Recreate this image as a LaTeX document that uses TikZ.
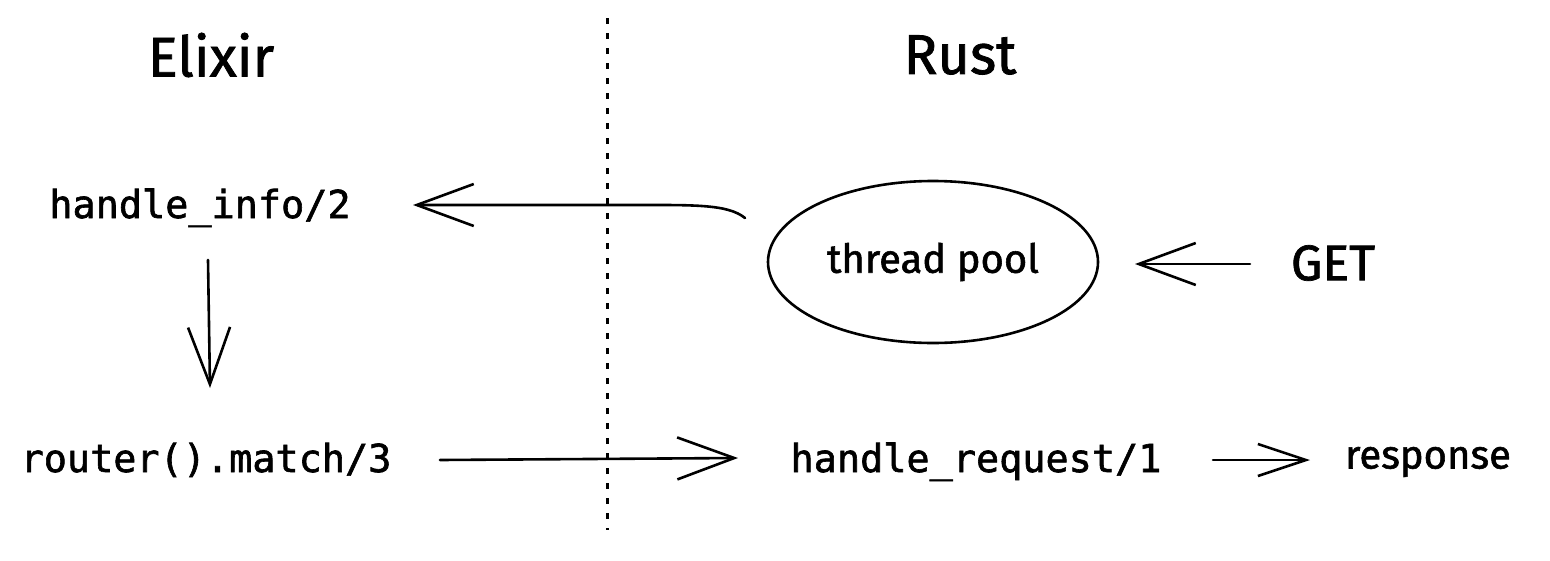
\documentclass[tikz,border=0pt]{standalone}
\usepackage{fontspec}
\setmainfont{Fira Sans}
\newfontfamily\codefont[FakeBold=1.6]{DejaVu Sans Mono}
\newfontfamily\handfont[FakeBold=1.4]{Fira Sans}
\usetikzlibrary{arrows.meta,calc,shapes.geometric}
\newcommand{\us}{\char"005F\relax}
\begin{document}
\begin{tikzpicture}[x=1pt,y=-1pt,
  code/.style={font=\codefont\fontsize{38.5}{40}\selectfont, inner sep=0pt, text height=30pt, text depth=8pt},
  hand/.style={font=\handfont\fontsize{40}{44}\selectfont, inner sep=0pt},
  bighand/.style={font=\handfont\fontsize{50}{54}\selectfont, inner sep=0pt},
  title/.style={font=\handfont\fontsize{56}{60}\selectfont, inner sep=0pt},
  arr/.style={line width=2.6pt, line cap=round, line join=round, -{Straight Barb[length=57pt,width=42pt,line width=2.6pt]}},
  smallarr/.style={line width=2.6pt, line cap=round, line join=round, -{Straight Barb[length=48pt,width=32pt,line width=2.6pt]}},
  divider/.style={line width=3pt, dash pattern=on 6pt off 9pt},
  pool/.style={draw, ellipse, line width=2.6pt, minimum width=330pt, minimum height=162pt, inner sep=0pt}
]
\useasboundingbox (0,0) rectangle (1550,560);
\fill[white] (0,0) rectangle (1550,560);

% divider
\coordinate (dtop) at (607,18);
\coordinate (dbot) at (607,530);
\draw[divider] (dtop) -- (dbot);

% titles
\node[title] (elixir) at (211,55) {Elixir};
\node[title] (rust) at (960,55) {Rust};

% nodes
\node[code] (hi) at (200,207) {handle\us info/2};
\node[code] (rt) at (206,461) {router().match/3};
\node[code] (hr) at (976,461) {handle\us request/1};
\node[pool, hand] (tp) at (933,262) {thread pool};
\node[bighand] (get) at (1333,263) {GET};
\node[hand] (resp) at (1428,462) {response};

% connectors
\draw[arr] ($(tp.center)+(-188,-44)$) .. controls ($(tp.center)+(-205,-58)$) and ($(tp.center)+(-240,-57)$) .. ($(tp.center)+(-300,-57)$) -- ($(hi.center)+(213,-2)$);
\draw[arr] ($(hi.center)+(8,53)$) -- ($(rt.center)+(4,-73)$);
\draw[arr] ($(get.center)+(-83,1)$) -- ($(tp.center)+(202,2)$);
\draw[arr] ($(rt.center)+(234,-1)$) -- ($(hr.center)+(-238,-3)$);
\draw[smallarr] ($(hr.center)+(237,-1)$) -- ($(resp.center)+(-118,-2)$);
\end{tikzpicture}
\end{document}
